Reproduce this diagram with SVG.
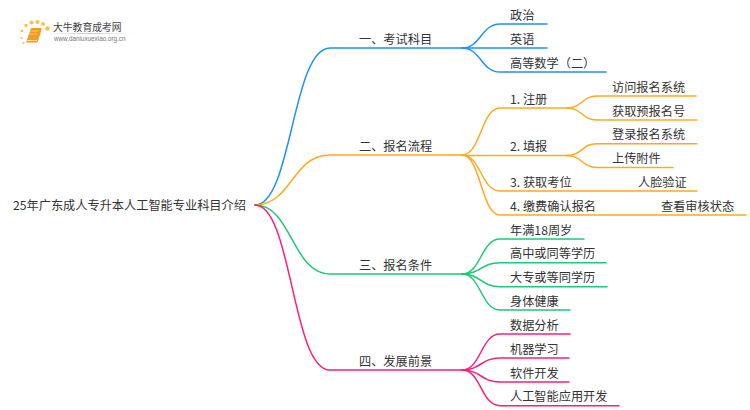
<svg xmlns="http://www.w3.org/2000/svg" width="750" height="410" viewBox="0 0 750 410">
<style>
text{font-family:"Noto Sans CJK SC","Noto Sans",sans-serif;font-size:12.2px;fill:#333}
.c{fill:none;stroke-width:1.5;stroke-linecap:round}
.b{stroke:#1e90ff}.o{stroke:#ffaa1e}.g{stroke:#1ec878}.p{stroke:#ff1e78}
</style>
<defs><linearGradient id="lg" x1="0" x2="1" y1="0" y2="0"><stop offset="0" stop-color="#ccc" stop-opacity="0.2"/><stop offset="0.5" stop-color="#bbb"/><stop offset="1" stop-color="#ccc" stop-opacity="0"/></linearGradient></defs>
<rect width="750" height="410" fill="#fff"/>
<g id="logo">
<g fill="#fbc04a"><circle cx="22" cy="31" r="1.3"/><circle cx="26" cy="25.500" r="1.700"/><circle cx="31.500" cy="22.500" r="2"/><circle cx="37.500" cy="22" r="2"/><circle cx="43" cy="24" r="2"/><circle cx="47.500" cy="28.500" r="2.300"/><circle cx="21.500" cy="38" r="1"/><circle cx="23.500" cy="43" r="1"/></g>
<path d="M31 28H41Q42 28 41.500 30L38 41Q37.500 42.500 36 42.500H27Q26 42.500 26.500 41Z" fill="#f59a23"/>
<path d="M30 31H38M29 34H37" stroke="#fbd58a" stroke-width="0.8"/>
<path d="M27 40.500H37" stroke="#fde3b0" stroke-width="1"/>
<text x="53" y="31" style="font-size:9.800px;fill:#444">大牛教育成考网</text>
<rect x="50" y="33" width="84" height="0.800" fill="url(#lg)"/>
<text x="54" y="41" style="font-size:6.300px;fill:#777;font-family:'Liberation Sans',sans-serif">www.daniuxuexiao.org.cn</text>
</g>
<g id="connectors">
<path class="c b" d="M255 205C292 205 292 48 330 48H462"/>
<path class="c b" d="M462 48C481 48 481 24 500 24H547"/>
<path class="c b" d="M462 48H547"/>
<path class="c b" d="M462 48C481 48 481 72 500 72H606"/>
<path class="c o" d="M255 205C292 205 292 155 330 155H462"/>
<path class="c o" d="M462 155C481 155 481 108 500 108H567"/>
<path class="c o" d="M462 155.500H567"/>
<path class="c o" d="M462 155C481 155 481 191 500 191H697"/>
<path class="c o" d="M462 155C481 155 481 215 500 215H746"/>
<path class="c o" d="M567 108C582 108 582 96 597 96H696"/>
<path class="c o" d="M567 108C582 108 582 120 597 120H697"/>
<path class="c o" d="M567 155.500C582 155.500 582 143.700 597 143.700H697"/>
<path class="c o" d="M567 155.500C582 155.500 582 167.500 597 167.500H673"/>
<path class="c g" d="M255 205C292 205 292 274 330 274H462"/>
<path class="c g" d="M462 274C481 274 481 239 500 239H584"/>
<path class="c g" d="M462 274C481 274 481 262.700 500 262.700H606"/>
<path class="c g" d="M462 274C481 274 481 286.700 500 286.700H607"/>
<path class="c g" d="M462 274C481 274 481 310 500 310H570"/>
<path class="c p" d="M255 205C292 205 292 370 330 370H462"/>
<path class="c p" d="M462 370C481 370 481 334 500 334H570"/>
<path class="c p" d="M462 370C481 370 481 358 500 358H569"/>
<path class="c p" d="M462 370C481 370 481 382 500 382H569"/>
<path class="c p" d="M462 370C481 370 481 405.700 500 405.700H619"/>
</g>
<g id="root"><text x="13" y="210">25年广东成人专升本人工智能专业科目介绍</text></g>
<g id="n1"><text x="359" y="43.500">一、考试科目</text></g>
<g id="n1-1"><text x="510" y="19.500">政治</text></g>
<g id="n1-2"><text x="510" y="43.500">英语</text></g>
<g id="n1-3"><text x="510" y="67.500">高等数学（二）</text></g>
<g id="n2"><text x="359" y="150.500">二、报名流程</text></g>
<g id="n2-1"><text x="510" y="103.500">1. 注册</text></g>
<g id="n2-1-1"><text x="612" y="91.500">访问报名系统</text></g>
<g id="n2-1-2"><text x="612" y="115.500">获取预报名号</text></g>
<g id="n2-2"><text x="510" y="150.500">2. 填报</text></g>
<g id="n2-2-1"><text x="612" y="139">登录报名系统</text></g>
<g id="n2-2-2"><text x="612" y="163">上传附件</text></g>
<g id="n2-3"><text x="510" y="186.500">3. 获取考位</text></g>
<g id="n2-3-1"><text x="638" y="186.500">人脸验证</text></g>
<g id="n2-4"><text x="510" y="210.500">4. 缴费确认报名</text></g>
<g id="n2-4-1"><text x="661" y="210.500">查看审核状态</text></g>
<g id="n3"><text x="359" y="269.500">三、报名条件</text></g>
<g id="n3-1"><text x="510" y="234.500">年满18周岁</text></g>
<g id="n3-2"><text x="510" y="258">高中或同等学历</text></g>
<g id="n3-3"><text x="510" y="282">大专或等同学历</text></g>
<g id="n3-4"><text x="510" y="305.500">身体健康</text></g>
<g id="n4"><text x="359" y="365.500">四、发展前景</text></g>
<g id="n4-1"><text x="510" y="329.500">数据分析</text></g>
<g id="n4-2"><text x="510" y="353.500">机器学习</text></g>
<g id="n4-3"><text x="510" y="377.500">软件开发</text></g>
<g id="n4-4"><text x="510" y="401">人工智能应用开发</text></g>
</svg>
